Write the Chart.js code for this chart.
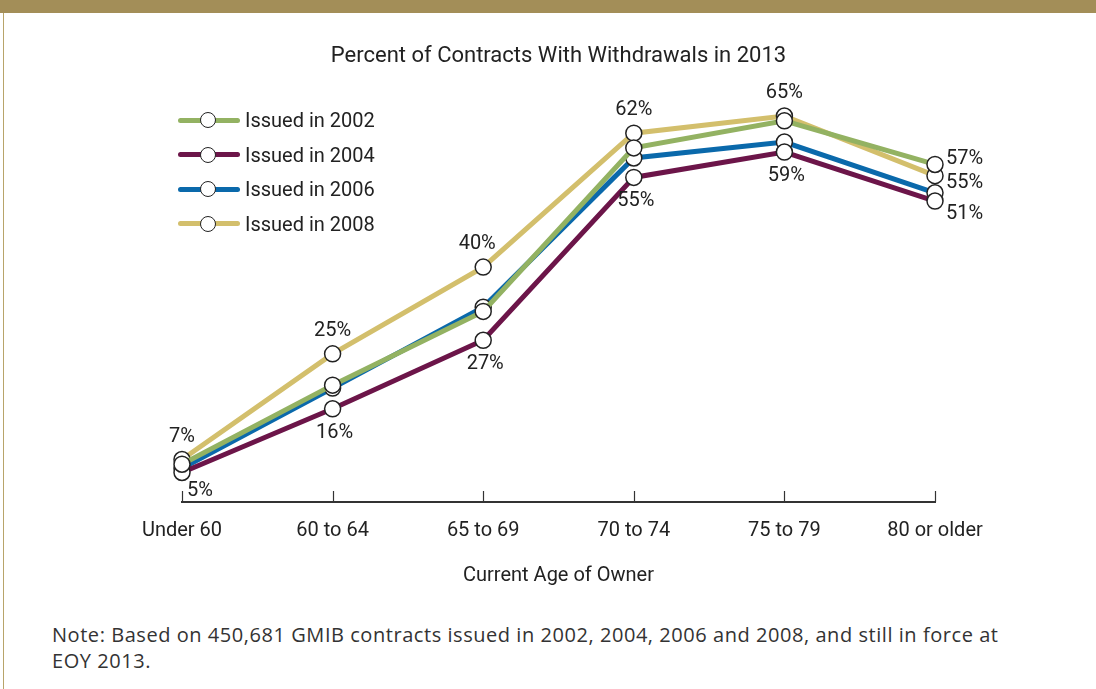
<!DOCTYPE html>
<html>
<head>
<meta charset="utf-8">
<script src="https://cdn.jsdelivr.net/npm/chart.js@4.4.0/dist/chart.umd.min.js"></script>
<style>
  body { margin: 0; background: #fff; width: 1096px; height: 689px; overflow: hidden; position: relative; }
  #topbar { position: absolute; left: 0; top: 0; width: 1096px; height: 13px; background: #a38e58; }
  #leftline { position: absolute; left: 3px; top: 13px; width: 1px; height: 676px; background: #b8a46a; }
  #wrap { position: absolute; left: 0; top: 0; width: 1096px; height: 600px; }
  #legend { position: absolute; left: 178px; top: 103px; font-family: Roboto, "Noto Sans", sans-serif; font-size: 20px; color: #222; }
  .row { height: 34.5px; display: flex; align-items: center; }
  .sw { position: relative; width: 62px; height: 20px; margin-right: 5px; }
  .sw .ln { position: absolute; left: 0; top: 7.5px; width: 62px; height: 5px; border-radius: 3px; }
  .sw .pt { position: absolute; left: 22px; top: 2px; width: 14px; height: 14px; border-radius: 50%; background: #fff; border: 1.5px solid #222; }
  #note { position: absolute; left: 52px; top: 622px; width: 960px; font-family: "Open Sans", "Noto Sans", sans-serif; font-size: 20px; letter-spacing: 0.55px; line-height: 26px; color: #333; }
</style>
</head>
<body>
<div id="topbar"></div>
<div id="leftline"></div>
<div id="wrap"><canvas id="chart" width="1096" height="600"></canvas></div>
<div id="legend"></div>
<div id="note">Note: Based on 450,681 GMIB contracts issued in 2002, 2004, 2006 and 2008, and still in force at EOY 2013.</div>
<script>
// categories and series (percent of contracts with withdrawals)
const ageGroups = ["Under 60", "60 to 64", "65 to 69", "70 to 74", "75 to 79", "80 or older"];
const issued2002 = [6.4, 19.8, 32.3, 60.0, 64.6, 57.2];
const issued2004 = [5.0, 15.8, 27.4, 55.0, 59.3, 51.0];
const issued2006 = [5.7, 19.3, 33.0, 58.3, 61.0, 52.4];
const issued2008 = [7.2, 25.1, 39.8, 62.5, 65.4, 55.3];

// value labels printed on the chart
const labels2002 = [null, null, null, null, null, "57%"];
const labels2004 = ["5%", "16%", "27%", "55%", "59%", "51%"];
const labels2006 = [null, null, null, null, null, null];
const labels2008 = ["7%", "25%", "40%", "62%", "65%", "55%"];

const seriesNames = ["Issued in 2002", "Issued in 2004", "Issued in 2006", "Issued in 2008"];
const colors = ["#93b262", "#6c1549", "#0a69ab", "#d3bf6c"];

const textFont = 'Roboto, "Noto Sans", sans-serif';

// legend
const legend = document.getElementById("legend");
seriesNames.forEach((name, i) => {
  const row = document.createElement("div");
  row.className = "row";
  row.innerHTML = '<div class="sw"><div class="ln" style="background:' + colors[i] + '"></div><div class="pt"></div></div><span>' + name + '</span>';
  legend.appendChild(row);
});

// where each value label sits relative to its point
function labelPlace(series, idx) {
  if (idx === 5) {
    if (series === 0) return { dx: 11, dy: -5, align: "left" };
    if (series === 3) return { dx: 11, dy: 7, align: "left" };
    return { dx: 11, dy: 13, align: "left" };
  }
  if (series === 3) return { dx: idx === 2 ? -6 : 0, dy: -23, align: "center" };
  if (idx === 0) return { dx: 18, dy: 19, align: "center" };
  return { dx: 2, dy: 24, align: "center" };
}

const valueLabels = {
  id: "valueLabels",
  afterDatasetsDraw(chart) {
    const ctx = chart.ctx;
    const all = [labels2002, labels2004, labels2006, labels2008];
    ctx.save();
    ctx.font = "20px " + textFont;
    ctx.fillStyle = "#222";
    ctx.textBaseline = "middle";
    all.forEach((arr, s) => {
      const meta = chart.getDatasetMeta(s);
      arr.forEach((txt, i) => {
        if (!txt) return;
        const p = meta.data[i];
        const pl = labelPlace(s, i);
        ctx.textAlign = pl.align;
        ctx.fillText(txt, p.x + pl.dx, p.y + pl.dy);
      });
    });
    ctx.restore();
  }
};

// short upward tick marks on the category axis
const upTicks = {
  id: "upTicks",
  afterDraw(chart) {
    const x = chart.scales.x;
    const ctx = chart.ctx;
    const b = chart.chartArea.bottom;
    ctx.save();
    ctx.strokeStyle = "#333";
    ctx.lineWidth = 1.2;
    x.ticks.forEach((t, i) => {
      const px = Math.round(x.getPixelForTick(i)) + 0.5;
      ctx.beginPath();
      ctx.moveTo(px, b - 11);
      ctx.lineTo(px, b);
      ctx.stroke();
    });
    ctx.restore();
  }
};

function ds(label, data, color) {
  return {
    label: label,
    data: data,
    borderColor: color,
    borderWidth: 5,
    pointRadius: 8,
    pointBorderWidth: 1.5,
    pointBorderColor: "#222",
    pointBackgroundColor: "#fff",
    tension: 0,
    clip: false
  };
}

new Chart(document.getElementById("chart"), {
  type: "line",
  data: {
    labels: ageGroups,
    datasets: [
      ds(seriesNames[0], issued2002, colors[0]),
      ds(seriesNames[1], issued2004, colors[1]),
      ds(seriesNames[2], issued2006, colors[2]),
      ds(seriesNames[3], issued2008, colors[3])
    ]
  },
  options: {
    responsive: false,
    animation: false,
    layout: { padding: { top: 33.5, left: 182, right: 161, bottom: 12 } },
    plugins: {
      legend: { display: false },
      tooltip: { enabled: false },
      title: {
        display: true,
        text: "Percent of Contracts With Withdrawals in 2013",
        color: "#222",
        font: { family: textFont, size: 22, weight: "normal", lineHeight: 1.2 },
        padding: { top: 10, bottom: 19 }
      }
    },
    scales: {
      x: {
        offset: false,
        border: { display: true, color: "#333", width: 2 },
        grid: { display: false, drawTicks: false },
        ticks: { color: "#222", padding: 17, font: { family: textFont, size: 20 } },
        title: {
          display: true,
          text: "Current Age of Owner",
          color: "#222",
          font: { family: textFont, size: 20 },
          padding: { top: 4, bottom: 0 }
        }
      },
      y: { display: false, min: 0, max: 70 }
    }
  },
  plugins: [valueLabels, upTicks]
});
</script>
</body>
</html>
